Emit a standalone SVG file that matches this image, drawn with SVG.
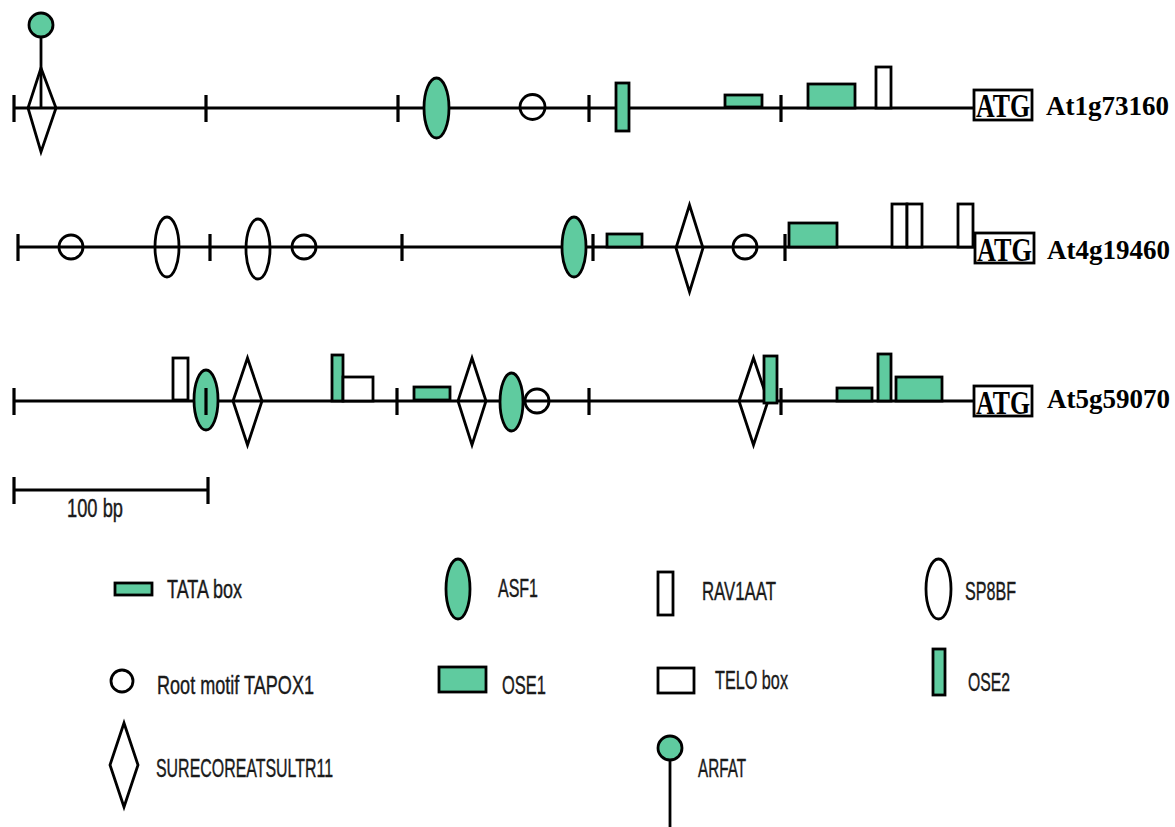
<svg xmlns="http://www.w3.org/2000/svg" width="1175" height="827" viewBox="0 0 1175 827">
<style>
.bb{stroke:#000;stroke-width:2.8;fill:none}
.tk{stroke:#000;stroke-width:3.2;fill:none}
.g{fill:#5fcb9f;stroke:#000;stroke-width:2.8}
.o{fill:none;stroke:#000;stroke-width:2.8}
.w{fill:#fff;stroke:#000;stroke-width:2.8}
.atg{font-family:"Liberation Serif",serif;font-weight:bold;font-size:34px;fill:#000}
.gene{font-family:"Liberation Serif",serif;font-weight:bold;font-size:27px;fill:#000}
.lg{font-family:"Liberation Sans Narrow","Liberation Sans",sans-serif;font-size:25px;fill:#1a1a1a;stroke:#1a1a1a;stroke-width:0.4}
</style>
<rect width="1175" height="827" fill="#fff"/>
<g id="connectors">
<line class="bb" x1="14" y1="108" x2="974" y2="108"/>
<line class="bb" x1="18" y1="247" x2="975" y2="247"/>
<line class="bb" x1="14" y1="401" x2="974" y2="401"/>
<line class="bb" x1="14" y1="490" x2="208" y2="490"/>
</g>
<g id="row1">
<g id="r1-arfat"><line class="o" x1="41" y1="37" x2="41" y2="108"/><circle class="g" cx="41" cy="25" r="12"/></g>
<polygon id="r1-sure" class="o" points="41,68 56,108 41,152 28,108"/>
<ellipse id="r1-asf1" class="g" cx="436.5" cy="108" rx="12.5" ry="30"/>
<circle id="r1-root" class="o" cx="532.5" cy="107" r="12.5"/>
<rect id="r1-ose2" class="g" x="616" y="83" width="13" height="48"/>
<rect id="r1-tata" class="g" x="725" y="95" width="37" height="12"/>
<rect id="r1-ose1" class="g" x="808" y="84" width="47" height="24"/>
<rect id="r1-rav" class="w" x="876" y="67" width="15" height="41"/>
<g id="r1-ticks"><line class="tk" x1="14" y1="95" x2="14" y2="122"/><line class="tk" x1="206" y1="95" x2="206" y2="122"/><line class="tk" x1="398" y1="95" x2="398" y2="122"/><line class="tk" x1="589" y1="95" x2="589" y2="122"/><line class="tk" x1="781" y1="95" x2="781" y2="122"/></g>
<g id="r1-atg"><rect class="w" x="974" y="90" width="58" height="30"/><text class="atg" x="976" y="117" textLength="54" lengthAdjust="spacingAndGlyphs">ATG</text></g>
<text id="r1-label" class="gene" x="1046" y="115">At1g73160</text>
</g>
<g id="row2">
<circle id="r2-root1" class="o" cx="71" cy="247" r="12"/>
<ellipse id="r2-sp8bf1" class="o" cx="167" cy="247" rx="12" ry="30"/>
<ellipse id="r2-sp8bf2" class="o" cx="258" cy="249" rx="12" ry="30"/>
<circle id="r2-root2" class="o" cx="304" cy="247" r="12"/>
<ellipse id="r2-asf1" class="g" cx="574" cy="247" rx="12" ry="30"/>
<rect id="r2-tata" class="g" x="607" y="234" width="35" height="13"/>
<polygon id="r2-sure" class="o" points="689.5,205 703,248 689.5,292 676,248"/>
<circle id="r2-root3" class="o" cx="745" cy="247" r="12"/>
<rect id="r2-ose1" class="g" x="789" y="223" width="48" height="24"/>
<rect id="r2-rav1" class="w" x="892" y="204" width="15" height="43"/>
<rect id="r2-rav2" class="w" x="907" y="204" width="15" height="43"/>
<rect id="r2-rav3" class="w" x="958" y="204" width="15" height="43"/>
<g id="r2-ticks"><line class="tk" x1="18" y1="234" x2="18" y2="261"/><line class="tk" x1="210" y1="234" x2="210" y2="261"/><line class="tk" x1="402" y1="234" x2="402" y2="261"/><line class="tk" x1="593" y1="234" x2="593" y2="261"/><line class="tk" x1="785" y1="234" x2="785" y2="261"/></g>
<g id="r2-atg"><rect class="w" x="975" y="233" width="59" height="30"/><text class="atg" x="977" y="261" textLength="55" lengthAdjust="spacingAndGlyphs">ATG</text></g>
<text id="r2-label" class="gene" x="1047" y="259">At4g19460</text>
</g>
<g id="row3">
<rect id="r3-rav" class="w" x="173" y="358" width="15" height="42"/>
<ellipse id="r3-asf1a" class="g" cx="206" cy="400" rx="12" ry="30"/>
<polygon id="r3-sure1" class="o" points="247.5,358 262,401 247.5,445 233,401"/>
<rect id="r3-ose2a" class="g" x="332" y="355" width="11" height="46"/>
<rect id="r3-telo" class="w" x="343" y="377" width="30" height="24"/>
<rect id="r3-tata1" class="g" x="414" y="387" width="36" height="13"/>
<polygon id="r3-sure2" class="o" points="472,358 486,401 472,445 458,401"/>
<ellipse id="r3-asf1b" class="g" cx="511.5" cy="402" rx="11.5" ry="29"/>
<circle id="r3-root" class="o" cx="537" cy="401" r="12"/>
<polygon id="r3-sure3" class="o" points="753.5,358 768,401 753.5,445 739,401"/>
<rect id="r3-ose2b" class="g" x="764" y="356" width="13" height="47"/>
<rect id="r3-tata2" class="g" x="837" y="388" width="35" height="13"/>
<rect id="r3-ose2c" class="g" x="878" y="354" width="13" height="47"/>
<rect id="r3-ose1" class="g" x="896" y="377" width="46" height="24"/>
<g id="r3-ticks"><line class="tk" x1="14" y1="388" x2="14" y2="415"/><line class="tk" x1="206" y1="388" x2="206" y2="415"/><line class="tk" x1="397" y1="388" x2="397" y2="415"/><line class="tk" x1="589" y1="388" x2="589" y2="415"/><line class="tk" x1="781" y1="388" x2="781" y2="415"/></g>
<g id="r3-atg"><rect class="w" x="974" y="386" width="58" height="30"/><text class="atg" x="976" y="414" textLength="54" lengthAdjust="spacingAndGlyphs">ATG</text></g>
<text id="r3-label" class="gene" x="1047" y="408">At5g59070</text>
</g>
<g id="scale">
<line class="tk" x1="14" y1="477" x2="14" y2="504"/><line class="tk" x1="208" y1="477" x2="208" y2="504"/>
<text class="lg" x="67" y="517" textLength="56" lengthAdjust="spacingAndGlyphs">100 bp</text>
</g>
<g id="legend">
<g id="lg-tata"><rect class="g" x="115" y="583" width="37" height="12"/><text class="lg" x="167" y="598" textLength="75" lengthAdjust="spacingAndGlyphs">TATA box</text></g>
<g id="lg-asf1"><ellipse class="g" cx="458" cy="589" rx="12" ry="30"/><text class="lg" x="498" y="597" textLength="40" lengthAdjust="spacingAndGlyphs">ASF1</text></g>
<g id="lg-rav"><rect class="w" x="658" y="572" width="15" height="43"/><text class="lg" x="702" y="600" textLength="74" lengthAdjust="spacingAndGlyphs">RAV1AAT</text></g>
<g id="lg-sp8bf"><ellipse class="o" cx="938.5" cy="589" rx="12.5" ry="30"/><text class="lg" x="965" y="600" textLength="51" lengthAdjust="spacingAndGlyphs">SP8BF</text></g>
<g id="lg-root"><circle class="o" cx="122" cy="681" r="11"/><text class="lg" x="157" y="694" textLength="157" lengthAdjust="spacingAndGlyphs">Root motif TAPOX1</text></g>
<g id="lg-ose1"><rect class="g" x="439" y="667" width="47" height="25"/><text class="lg" x="502" y="694" textLength="44" lengthAdjust="spacingAndGlyphs">OSE1</text></g>
<g id="lg-telo"><rect class="w" x="658" y="668" width="36" height="25"/><text class="lg" x="715" y="689" textLength="73" lengthAdjust="spacingAndGlyphs">TELO box</text></g>
<g id="lg-ose2"><rect class="g" x="933" y="649" width="12" height="46"/><text class="lg" x="968" y="691" textLength="42" lengthAdjust="spacingAndGlyphs">OSE2</text></g>
<g id="lg-sure"><polygon class="o" points="124,723 138,765 124,807 110,765"/><text class="lg" x="156" y="777" textLength="177" lengthAdjust="spacingAndGlyphs">SURECOREATSULTR11</text></g>
<g id="lg-arfat"><line class="o" x1="670" y1="760" x2="670" y2="827"/><circle class="g" cx="670" cy="748" r="12"/><text class="lg" x="698" y="777" textLength="48" lengthAdjust="spacingAndGlyphs">ARFAT</text></g>
</g>
</svg>
